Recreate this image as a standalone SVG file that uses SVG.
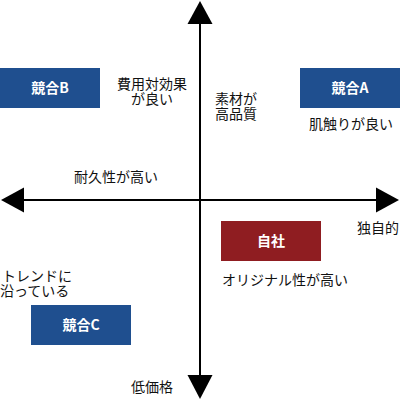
<svg xmlns="http://www.w3.org/2000/svg" width="400" height="400" viewBox="0 0 400 400">
<style>
text{font-family:"Noto Sans CJK JP","Noto Sans",sans-serif;font-size:14px;fill:#111}
.lbl{fill:#fff;font-weight:bold;text-anchor:middle}
.blue{fill:#1f4f8f}
.red{fill:#8f1d21}
.axis{stroke:#000;stroke-width:2;fill:none}
.mid{text-anchor:middle}
</style>
<rect width="400" height="400" fill="#fff"/>
<g id="connectors">
<line class="axis" x1="200" y1="20" x2="200" y2="380"/>
<line class="axis" x1="20" y1="200" x2="380" y2="200"/>
<polygon points="200,1 187.5,24 212.5,24" fill="#000"/>
<polygon points="200,399 187.5,375 212.5,375" fill="#000"/>
<polygon points="1,200 24,187.5 24,212.5" fill="#000"/>
<polygon points="399,200 376,187.5 376,212.5" fill="#000"/>
</g>
<g id="nodeB"><rect class="blue" x="0" y="68" width="100" height="40"/><text class="lbl" x="50" y="93">競合B</text></g>
<g id="nodeA"><rect class="blue" x="300" y="68" width="100" height="40"/><text class="lbl" x="350" y="93">競合A</text></g>
<g id="nodeSelf"><rect class="red" x="221" y="221" width="100" height="40"/><text class="lbl" x="271" y="246">自社</text></g>
<g id="nodeC"><rect class="blue" x="31" y="305" width="100" height="40"/><text class="lbl" x="81" y="330">競合C</text></g>
<g id="labels">
<text class="mid" x="152" y="89">費用対効果<tspan x="152" dy="15">が良い</tspan></text>
<text x="215" y="104">素材が<tspan x="215" dy="15">高品質</tspan></text>
<text class="mid" x="351" y="129">肌触りが良い</text>
<text class="mid" x="116" y="182">耐久性が高い</text>
<text x="357" y="233">独自的</text>
<text x="222" y="285">オリジナル性が高い</text>
<text x="2" y="281">トレンドに<tspan x="0" dy="15">沿っている</tspan></text>
<text x="131" y="392">低価格</text>
</g>
</svg>
